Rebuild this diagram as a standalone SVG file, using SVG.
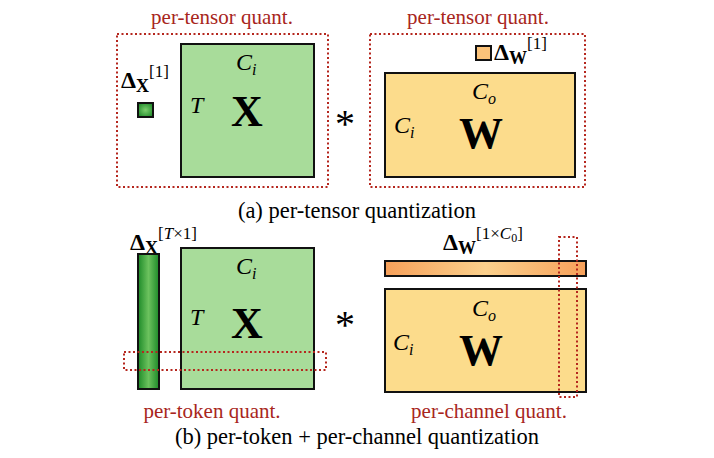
<svg xmlns="http://www.w3.org/2000/svg" width="714" height="458" viewBox="0 0 714 458">
<defs>
<radialGradient id="gsq" cx="0.5" cy="0.5" r="0.6"><stop offset="0" stop-color="#7ccf6e"/><stop offset="1" stop-color="#1f8a2a"/></radialGradient>
<linearGradient id="gbar" x1="0" y1="0" x2="1" y2="0"><stop offset="0" stop-color="#1d8a28"/><stop offset="0.5" stop-color="#6cc25e"/><stop offset="1" stop-color="#1d8a28"/></linearGradient>
<linearGradient id="obar" x1="0" y1="0" x2="1" y2="0"><stop offset="0" stop-color="#f6a05a"/><stop offset="0.5" stop-color="#fbd08c"/><stop offset="1" stop-color="#f6a05a"/></linearGradient>
<style>
.g{fill:#a8dc9a;stroke:#111;stroke-width:2}
.y{fill:#fcdc8c;stroke:#111;stroke-width:2}
.d{fill:none;stroke:#b5271e;stroke-width:2;stroke-dasharray:2 2.5}
.t{font-family:"Liberation Serif",serif;fill:#000}
.r{font-family:"Liberation Serif",serif;fill:#a8261c;font-size:21px;text-anchor:middle}
.i{font-style:italic;font-size:24px}
.b{font-weight:bold;font-size:44px;text-anchor:middle}
</style>
</defs>
<g id="connectors"></g>
<g id="top-left">
<text class="r" x="222" y="24">per-tensor quant.</text>
<rect class="d" x="117" y="34" width="211" height="153"/>
<rect class="g" x="181" y="44" width="133" height="133"/>
<text class="t i" x="236" y="70">C<tspan font-size="16" dy="5">i</tspan></text>
<text class="t i" x="190" y="113">T</text>
<text class="t b" x="247" y="126">X</text>
<text class="t" x="121" y="88" font-size="24" font-weight="bold">Δ<tspan font-size="18" dy="4">X</tspan><tspan font-weight="normal" font-size="17" dy="-15">[1]</tspan></text>
<rect x="138" y="103" width="15" height="14" fill="url(#gsq)" stroke="#111" stroke-width="2"/>
</g>
<text class="t" x="345" y="137" font-size="40" text-anchor="middle">*</text>
<g id="top-right">
<text class="r" x="478" y="24">per-tensor quant.</text>
<rect class="d" x="370" y="34" width="215" height="153"/>
<rect x="476" y="46" width="15" height="14" fill="#fbc37a" stroke="#111" stroke-width="2"/>
<text class="t" x="494" y="60" font-size="24" font-weight="bold">Δ<tspan font-size="18" dy="4">W</tspan><tspan font-weight="normal" font-size="17" dy="-15">[1]</tspan></text>
<rect class="y" x="385" y="73" width="190" height="104"/>
<text class="t i" x="472" y="99">C<tspan font-size="16" dy="5">o</tspan></text>
<text class="t i" x="394" y="133">C<tspan font-size="16" dy="5">i</tspan></text>
<text class="t b" x="481" y="148">W</text>
</g>
<text class="t" x="357" y="218" font-size="22.5" text-anchor="middle">(a) per-tensor quantization</text>
<g id="bottom-left">
<text class="t" x="130" y="250" font-size="24" font-weight="bold">Δ<tspan font-size="18" dy="4">X</tspan><tspan font-weight="normal" font-size="17" dy="-15">[<tspan font-style="italic">T</tspan>×1]</tspan></text>
<rect x="138" y="254" width="21" height="135" fill="url(#gbar)" stroke="#111" stroke-width="2"/>
<rect class="g" x="181" y="248" width="133" height="141"/>
<text class="t i" x="236" y="274">C<tspan font-size="16" dy="5">i</tspan></text>
<text class="t i" x="190" y="325">T</text>
<text class="t b" x="247" y="338">X</text>
<rect class="d" x="124" y="352" width="202" height="18"/>
<text class="r" x="212" y="418">per-token quant.</text>
</g>
<text class="t" x="345" y="338" font-size="40" text-anchor="middle">*</text>
<g id="bottom-right">
<text class="t" x="443" y="250" font-size="24" font-weight="bold">Δ<tspan font-size="18" dy="4">W</tspan><tspan font-weight="normal" font-size="17" dy="-15">[1×<tspan font-style="italic">C</tspan><tspan font-size="12" dy="3">0</tspan><tspan dy="-3">]</tspan></tspan></text>
<rect x="385" y="261" width="201" height="15" fill="url(#obar)" stroke="#111" stroke-width="2"/>
<rect class="y" x="385" y="289" width="201" height="103"/>
<text class="t i" x="472" y="316">C<tspan font-size="16" dy="5">o</tspan></text>
<text class="t i" x="393" y="350">C<tspan font-size="16" dy="5">i</tspan></text>
<text class="t b" x="481" y="365">W</text>
<rect class="d" x="559" y="237" width="18" height="160"/>
<text class="r" x="489" y="418">per-channel quant.</text>
</g>
<text class="t" x="357" y="444" font-size="22.5" text-anchor="middle">(b) per-token + per-channel quantization</text>
</svg>
